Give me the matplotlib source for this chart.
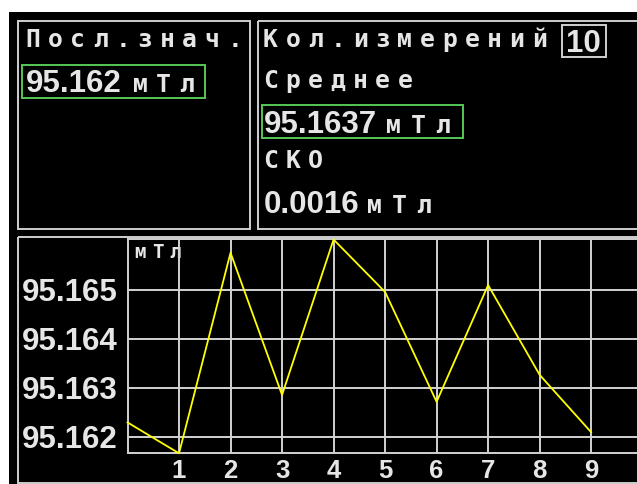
import matplotlib
matplotlib.use("Agg")
import matplotlib.pyplot as plt
from matplotlib.patches import Rectangle

# measurement series, mT
index = [0, 1, 2, 3, 4, 5, 6, 7, 8, 9]
field = [95.16229, 95.16166, 95.16575, 95.16285, 95.16602,
         95.16495, 95.16271, 95.16509, 95.16326, 95.16209]
ytick_vals = [95.162, 95.163, 95.164, 95.165]
xtick_vals = [1, 2, 3, 4, 5, 6, 7, 8, 9]

last_value = "95.162"
mean_value = "95.1637"
sko_value = "0.0016"
n_meas = "10"
unit = "мТл"

W, H = 637, 484
FG = "#e6e6e6"
FRAME = "#cfcfcf"
GREEN = "#55c855"
NUM_FONT = "Liberation Sans"
DEV_FONT = "DejaVu Sans Mono"

fig = plt.figure(figsize=(W / 100, H / 100), dpi=100)
fig.patch.set_facecolor("white")

# overlay in pixel coordinates for the panels and captions
bg = fig.add_axes([0, 0, 1, 1])
bg.set_xlim(0, W)
bg.set_ylim(H, 0)
bg.axis("off")


def box(x0, y0, x1, y1, color=FRAME, lw=1.4, fill=None):
    bg.add_patch(Rectangle((x0, y0), x1 - x0, y1 - y0, fill=fill is not None,
                           facecolor=fill, edgecolor=color if fill is None else "none",
                           lw=lw))


def device_text(x, y, s, pitch, size=17.8):
    # fixed-pitch screen font: one cell per character
    for i, ch in enumerate(s):
        bg.text(x + i * pitch, y, ch, ha="center", va="baseline",
                fontsize=size, family=DEV_FONT, weight="bold", color=FG)


def number(x, y, s, ha="left"):
    bg.text(x, y, s, ha=ha, va="baseline", fontsize=22.5, family=NUM_FONT,
            weight="bold", color=FG)


box(9, 12, W + 20, H + 20, fill="black")

# panels
box(17.5, 21, 250, 229)
box(258, 21, W + 20, 229)
box(17.5, 237, W + 20, 482.5)

# last value
device_text(33, 46.7, "Посл.знач.", 22.4)
box(21.7, 65, 205, 98.3, color=GREEN)
number(26, 91.7, last_value)
device_text(140, 91.7, unit, 23.5)

# statistics
device_text(270.5, 46.7, "Кол.измерений", 22.4)
box(562, 25, 606, 57)
number(583.5, 51.7, n_meas, ha="center")
device_text(270.5, 88.3, "Среднее", 22.4)
box(262, 105, 463, 138, color=GREEN)
number(264, 133.3, mean_value)
device_text(393, 133.3, unit, 25)
device_text(270.5, 168.3, "СКО", 22.4)
number(264, 213.3, sko_value)
device_text(374, 213.3, unit, 25)

# trend plot
left, right, top, bottom = 127.5, W, 239.5, 453.3
ax = fig.add_axes([left / W, 1 - bottom / H, (right - left) / W, (bottom - top) / H])
ax.set_facecolor("none")
ax.plot(index, field, color="#ffff00", lw=1.3, clip_on=False, zorder=3)
ax.set_xlim(0, 9.89)
ax.set_ylim(min(field), max(field))
ax.set_xticks(xtick_vals)
ax.set_xticklabels([str(v) for v in xtick_vals])
ax.set_yticks(ytick_vals)
ax.set_yticklabels(["%.3f" % v for v in ytick_vals])
ax.grid(True, color="#d2d2d2", lw=1.4)
ax.set_axisbelow(True)
ax.tick_params(axis="both", length=0, colors=FG)
ax.tick_params(axis="y", pad=6.8, labelsize=22.5)
ax.tick_params(axis="x", pad=4.0, labelsize=18.5)
for lab in ax.get_xticklabels() + ax.get_yticklabels():
    lab.set_family(NUM_FONT)
    lab.set_weight("bold")
for side in ["left", "top", "bottom"]:
    ax.spines[side].set_color("#d2d2d2")
    ax.spines[side].set_linewidth(1.4)
ax.spines["right"].set_visible(False)

device_text(140, 258.3, unit, 17.5, size=13.8)

fig.savefig("out.png", dpi=100)
